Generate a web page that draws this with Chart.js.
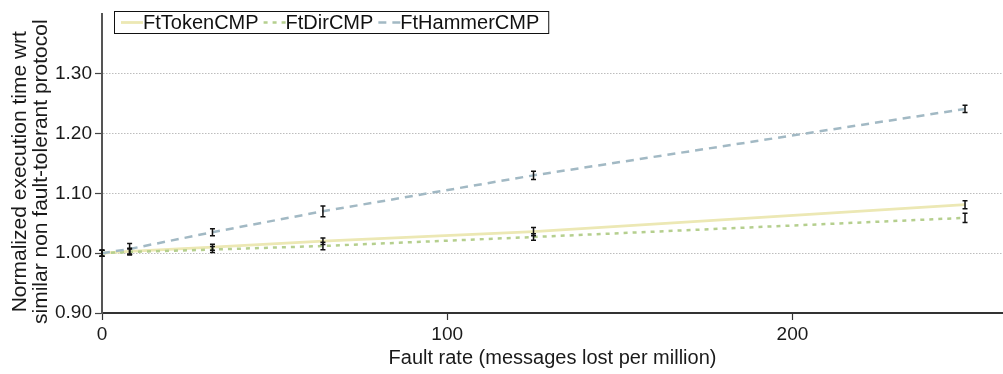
<!DOCTYPE html>
<html>
<head>
<meta charset="utf-8">
<script src="https://cdn.jsdelivr.net/npm/chart.js@4.4.1/dist/chart.umd.min.js"></script>
<style>
  html, body { margin: 0; padding: 0; background: #ffffff; }
  #wrap { width: 1003px; height: 374px; position: relative; }
</style>
</head>
<body>
<div id="wrap"><canvas id="c" width="1003" height="374"></canvas></div>
<script>
// ---- data ----
const faultRates   = [0, 8, 32, 64, 125, 250];
const seriesNames  = ['FtTokenCMP', 'FtDirCMP', 'FtHammerCMP'];
const tokenValues  = [1.000, 1.003, 1.010, 1.020, 1.036, 1.081];
const tokenErrors  = [0.005, 0.005, 0.005, 0.0055, 0.007, 0.0066];
const dirValues    = [1.000, 1.002, 1.006, 1.012, 1.027, 1.059];
const dirErrors    = [0.005, 0.005, 0.005, 0.0063, 0.0055, 0.0078];
const hammerValues = [1.000, 1.007, 1.035, 1.070, 1.130, 1.241];
const hammerErrors = [0.005, 0.009, 0.006, 0.009, 0.007, 0.006];
const yTickValues  = [0.90, 1.00, 1.10, 1.20, 1.30];
const xTickValues  = [0, 100, 200];
const xTitle = 'Fault rate (messages lost per million)';
const yTitle = ['Normalized execution time wrt', 'similar non fault-tolerant protocol'];

const FONT = "'Liberation Sans', Arial, Helvetica, sans-serif";

function pts(vals) { return faultRates.map((x, i) => ({ x: x, y: vals[i] })); }

const datasets = [
  { label: seriesNames[2], data: pts(hammerValues), errors: hammerErrors,
    borderColor: '#a2b9c4', borderWidth: 2.5, borderDash: [8, 6] },
  { label: seriesNames[1], data: pts(dirValues), errors: dirErrors,
    borderColor: '#b5cf8e', borderWidth: 2.5, borderDash: [4, 5] },
  { label: seriesNames[0], data: pts(tokenValues), errors: tokenErrors,
    borderColor: '#ece8b4', borderWidth: 2.8, borderDash: [] }
].map(d => Object.assign(d, { pointRadius: 0, pointHoverRadius: 0, fill: false, tension: 0 }));

const errorBars = {
  id: 'errorBars',
  afterDatasetsDraw(chart) {
    const ctx = chart.ctx, xs = chart.scales.x, ys = chart.scales.y;
    ctx.save();
    ctx.strokeStyle = '#111';
    ctx.lineWidth = 1.5;
    ctx.setLineDash([]);
    chart.data.datasets.forEach(ds => {
      ds.data.forEach((p, i) => {
        const e = ds.errors[i];
        const x = xs.getPixelForValue(p.x);
        const y1 = ys.getPixelForValue(p.y - e);
        const y2 = ys.getPixelForValue(p.y + e);
        ctx.beginPath();
        ctx.moveTo(x, y1); ctx.lineTo(x, y2);
        ctx.moveTo(x - 2.5, y1); ctx.lineTo(x + 2.5, y1);
        ctx.moveTo(x - 2.5, y2); ctx.lineTo(x + 2.5, y2);
        ctx.stroke();
      });
    });
    ctx.restore();
  }
};

const yAxisTitle = {
  id: 'yAxisTitle',
  afterDraw(chart) {
    const ctx = chart.ctx;
    const cy = (chart.chartArea.top + chart.chartArea.bottom) / 2 + 8;
    ctx.save();
    ctx.font = '21px ' + FONT;
    ctx.fillStyle = '#1a1a1a';
    ctx.textAlign = 'center';
    ctx.textBaseline = 'middle';
    ctx.translate(20.5, cy);
    ctx.rotate(-Math.PI / 2);
    yTitle.forEach((line, i) => ctx.fillText(line, 0, i * 21));
    ctx.restore();
  }
};

const boxLegend = {
  id: 'boxLegend',
  afterDraw(chart) {
    const ctx = chart.ctx;
    const order = [2, 1, 0]; // Token, Dir, Hammer
    const left = 114, top = 11, h = 22, sample = 22, gap = 5, padL = 7, padR = 9;
    ctx.save();
    ctx.font = '20px ' + FONT;
    ctx.textBaseline = 'middle';
    ctx.textAlign = 'left';
    let x = left + padL;
    const cy = top + h / 2;
    const items = order.map(i => chart.data.datasets[i]);
    let total = padL;
    items.forEach((d, k) => { total += sample + ctx.measureText(d.label).width + (k < items.length - 1 ? gap : 0); });
    total += padR;
    ctx.fillStyle = '#fff';
    ctx.fillRect(left, top, total, h);
    items.forEach(d => {
      ctx.strokeStyle = d.borderColor;
      ctx.lineWidth = d.borderWidth;
      ctx.setLineDash(d.borderDash || []);
      ctx.beginPath();
      ctx.moveTo(x, cy + 0.5); ctx.lineTo(x + sample, cy + 0.5);
      ctx.stroke();
      ctx.setLineDash([]);
      x += sample;
      ctx.fillStyle = '#111';
      ctx.fillText(d.label, x, cy + 1);
      x += ctx.measureText(d.label).width + gap;
    });
    ctx.strokeStyle = '#111';
    ctx.lineWidth = 1;
    ctx.strokeRect(left + 0.5, top + 0.5, total, h);
    ctx.restore();
  }
};

new Chart(document.getElementById('c'), {
  type: 'line',
  data: { datasets: datasets },
  options: {
    responsive: false,
    animation: false,
    events: [],
    layout: { padding: { top: 12, right: 0, left: 0, bottom: 0 } },
    plugins: { legend: { display: false }, tooltip: { enabled: false } },
    scales: {
      x: {
        type: 'linear', min: 0, max: 261,
        afterBuildTicks(s) { s.ticks = xTickValues.map(v => ({ value: v })); },
        afterFit(s) { s.height = 61; },
        grid: { drawOnChartArea: false, drawTicks: true, tickLength: 7, tickColor: '#333', tickWidth: 1.2 },
        border: { display: true, color: '#333', width: 2 },
        ticks: { color: '#1a1a1a', font: { family: FONT, size: 19 }, padding: 3, maxRotation: 0,
                 callback: v => String(v) },
        title: { display: true, text: xTitle, color: '#1a1a1a',
                 font: { family: FONT, size: 20, lineHeight: 1.2 }, padding: { top: 0, bottom: 4 } }
      },
      y: {
        type: 'linear', min: 0.9, max: 1.399,
        afterBuildTicks(s) { s.ticks = yTickValues.map(v => ({ value: v })); },
        afterFit(s) { s.width = 102; },
        grid: { drawOnChartArea: true, color: '#bdbdbd', lineWidth: 1, drawTicks: true, tickLength: 7,
                tickColor: '#444', tickWidth: 1.2, tickBorderDash: [] },
        border: { display: true, color: '#555', width: 2, dash: [1.5, 1.5] },
        ticks: { color: '#1a1a1a', font: { family: FONT, size: 19 }, padding: 3,
                 callback: v => Number(v).toFixed(2) },
        title: { display: false }
      }
    }
  },
  plugins: [errorBars, yAxisTitle, boxLegend]
});
</script>
</body>
</html>
